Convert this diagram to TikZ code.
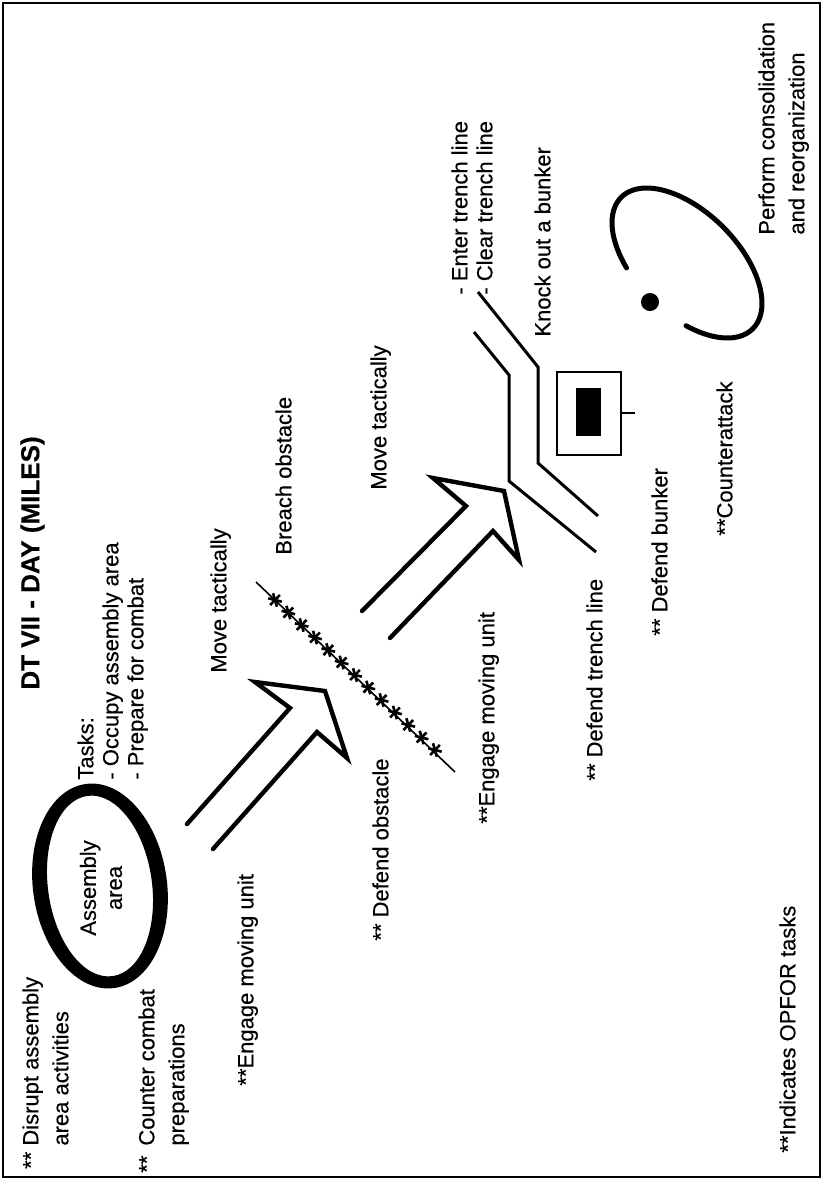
\documentclass[tikz,border=0pt]{standalone}
\usepackage{fontspec}
\setmainfont{Liberation Sans}[FakeBold=0.4]
\usetikzlibrary{positioning}

\tikzset{
  lbl/.style={rotate=90, anchor=north west, inner sep=0pt, align=left,
    font=\fontsize{11}{12.5}\selectfont},
  wide/.style={font=\fontsize{11}{15}\selectfont},
  heavy/.style={line width=2.2pt, line join=miter, line cap=round},
  trench/.style={line width=1.5pt},
}

\begin{document}
\begin{tikzpicture}[x=0.5pt, y=-0.5pt]
  \useasboundingbox (0,0) rectangle (823,1179);
  \draw[line width=1.1pt] (3,3) rectangle (820,1177);

  % heading and tasks of the assembly area
  \node[lbl, font=\bfseries\fontsize{13}{15}\selectfont] (title) at (20,690) {DT VII - DAY (MILES)};
  \node[lbl] (tasks) at (77,780) {Tasks:\\- Occupy assembly area\\- Prepare for combat};
  \node[lbl, wide] (disrupt) at (22,1146) {\llap{**\ }Disrupt assembly\\area activities};
  \node[lbl, wide] (counter) at (138,1146) {\llap{**\hspace{5pt}}Counter combat\\preparations};

  % assembly area ring
  \fill[even odd rule, rotate around={8:(100,886)}]
    (100,886) ellipse [x radius=67, y radius=103]
    (100,886) ellipse [x radius=52, y radius=91];
  \node[rotate=90, align=center, inner sep=0pt, font=\fontsize{11}{13}\selectfont] (asm) at (101,888) {Assembly\\area};

  % first bound
  \node[lbl] (move1) at (210,673) {Move tactically};
  \node[lbl] (engage1) at (237,1086) {**Engage moving unit};
  \draw[heavy] (187,824) -- (290,708) -- (255,682) -- (325,691)
    -- (347,758) -- (317,732) -- (213,849);

  % wire obstacle
  \node[lbl] (breach) at (275,555) {Breach obstacle};
  \node[lbl] (defobst) at (372,941) {** Defend obstacle};
  \draw[line width=0.8pt] (256,582) -- (455,772);
  \foreach \i in {0,...,12} {
    \pgfmathsetmacro\sx{275+13.33*\i}
    \pgfmathsetmacro\sy{600+12.5*\i}
    \foreach \a in {-46,14,74}
      \draw[line width=1.3pt] (\sx,\sy) ++(\a:7) -- ++(\a:-14);
  }

  % second bound
  \node[lbl] (move2) at (370,490) {Move tactically};
  \node[lbl] (engage2) at (478,824) {**Engage moving unit};
  \draw[heavy] (362,611) -- (466,506) -- (433,478) -- (504,491)
    -- (519,560) -- (493,531) -- (390,638);

  % trench line
  \node[lbl] (entclr) at (451,295) {- Enter trench line\\- Clear trench line};
  \node[lbl] (deftrench) at (586,781) {** Defend trench line};
  \draw[trench] (474,332) -- (509,375) -- (509,481) -- (596,552);
  \draw[trench] (478,292) -- (538,367) -- (538,463) -- (598,516);

  % bunker
  \node[lbl] (knock) at (534,337) {Knock out a bunker};
  \node[lbl] (defbunker) at (651,636) {** Defend bunker};
  \draw[line width=1.4pt] (557,372) rectangle (621,455);
  \fill (576,388) rectangle (601,436);
  \draw[line width=1.4pt] (621,413) -- (635,413);

  % objective
  \node[lbl] (cattack) at (716,536) {**Counterattack};
  \node[lbl, wide] (perform) at (758,235) {Perform consolidation\\and reorganization};
  \draw[line width=2.5pt, line cap=round] plot[domain=115:422, samples=90]
    ({687+93*cos(\x)*0.7071-51*sin(\x)*0.7071}, {263+93*cos(\x)*0.7071+51*sin(\x)*0.7071});
  \fill (650,302) circle [radius=9];

  \node[lbl] (note) at (779,1153) {**Indicates OPFOR tasks};
\end{tikzpicture}
\end{document}
